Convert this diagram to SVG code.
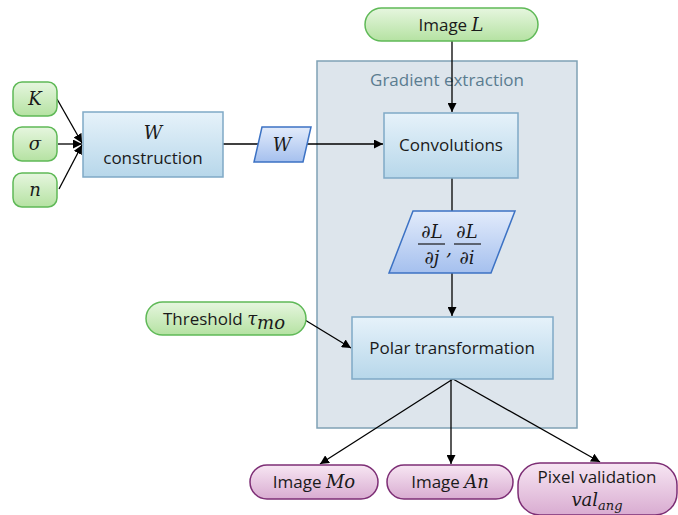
<svg xmlns="http://www.w3.org/2000/svg" width="678" height="515" viewBox="0 0 678 515">
<defs>
<linearGradient id="gGreen" x1="0" y1="0" x2="0" y2="1"><stop offset="0" stop-color="#e6f6df"/><stop offset="1" stop-color="#b5e2a2"/></linearGradient>
<linearGradient id="gBlue" x1="0" y1="0" x2="0" y2="1"><stop offset="0" stop-color="#e6f2fa"/><stop offset="1" stop-color="#b7d7ea"/></linearGradient>
<linearGradient id="gPara" x1="0" y1="0" x2="0" y2="1"><stop offset="0" stop-color="#e2ebfb"/><stop offset="1" stop-color="#a5c0ee"/></linearGradient>
<linearGradient id="gPurple" x1="0" y1="0" x2="0" y2="1"><stop offset="0" stop-color="#f7e6f3"/><stop offset="1" stop-color="#d9acd1"/></linearGradient>
<marker id="arr" viewBox="0 0 10 10" refX="10" refY="5" markerWidth="9" markerHeight="9" markerUnits="userSpaceOnUse" orient="auto"><path d="M0,0 L10,5 L0,10 z" fill="#000"/></marker>
</defs>
<style>
.green{fill:url(#gGreen);stroke:#5fb957;stroke-width:1.5}
.blue{fill:url(#gBlue);stroke:#7fa9c6;stroke-width:1.5}
.para{fill:url(#gPara);stroke:#3c72c4;stroke-width:1.5}
.purple{fill:url(#gPurple);stroke:#7d2e75;stroke-width:1.5}
.t{font-family:"Open Sans","Liberation Sans",sans-serif;font-size:17px;fill:#1a1a1a;text-anchor:middle}
.m{font-family:"DejaVu Serif","Liberation Serif",serif;font-style:italic;font-size:18px;fill:#1a1a1a}
.c{stroke:#000;stroke-width:1.3;fill:none}
</style>
<g id="container">
<rect x="317" y="61" width="260" height="367" fill="#dde5ec" stroke="#7fa1b5" stroke-width="1.5"/>
<text x="447" y="86" class="t" style="fill:#5a7c90">Gradient extraction</text>
</g>
<g id="connectors">
<line x1="452" y1="41" x2="452" y2="112" class="c" marker-end="url(#arr)"/>
<line x1="57" y1="99" x2="82" y2="143" class="c" marker-end="url(#arr)"/>
<line x1="58" y1="144" x2="82" y2="144" class="c" marker-end="url(#arr)"/>
<line x1="59" y1="189" x2="82" y2="145" class="c" marker-end="url(#arr)"/>
<line x1="223" y1="144" x2="260" y2="144" class="c"/>
<line x1="306" y1="144" x2="383" y2="144" class="c" marker-end="url(#arr)"/>
<line x1="452" y1="178" x2="452" y2="211" class="c"/>
<line x1="452" y1="273" x2="452" y2="316" class="c" marker-end="url(#arr)"/>
<line x1="305" y1="320" x2="351" y2="348" class="c" marker-end="url(#arr)"/>
<line x1="453" y1="379" x2="320" y2="464" class="c" marker-end="url(#arr)"/>
<line x1="451" y1="379" x2="451" y2="464" class="c" marker-end="url(#arr)"/>
<line x1="453" y1="379" x2="600" y2="462" class="c" marker-end="url(#arr)"/>
</g>
<g id="imageL">
<rect x="365" y="8" width="173" height="33" rx="16.5" class="green"/>
<text x="451" y="31" class="t">Image <tspan class="m">L</tspan></text>
</g>
<g id="K">
<rect x="13" y="82" width="44" height="34" rx="9" class="green"/>
<text x="35" y="105" class="m" text-anchor="middle">K</text>
</g>
<g id="sigma">
<rect x="13" y="127" width="44" height="34" rx="9" class="green"/>
<text x="35" y="150" class="m" text-anchor="middle">σ</text>
</g>
<g id="n">
<rect x="13" y="173" width="44" height="34" rx="9" class="green"/>
<text x="35" y="196" class="m" text-anchor="middle">n</text>
</g>
<g id="wconstruction">
<rect x="83" y="112" width="140" height="65" class="blue"/>
<text x="153" y="139" class="m" text-anchor="middle">W</text>
<text x="153" y="164" class="t">construction</text>
</g>
<g id="W">
<polygon points="262,127 311,127 303,162 254,162" class="para"/>
<text x="282" y="151" class="m" text-anchor="middle">W</text>
</g>
<g id="convolutions">
<rect x="384" y="113" width="134" height="65" class="blue"/>
<text x="451" y="151" class="t">Convolutions</text>
</g>
<g id="derivatives">
<polygon points="413,211 515,211 491,273 389,273" class="para"/>
<text x="432" y="238" class="m" text-anchor="middle">∂L</text>
<line x1="418" y1="244" x2="445" y2="244" stroke="#1a1a1a" stroke-width="1.2"/>
<text x="432" y="264" class="m" text-anchor="middle">∂j</text>
<text x="449" y="255" class="m" text-anchor="middle">,</text>
<text x="467" y="238" class="m" text-anchor="middle">∂L</text>
<line x1="454" y1="244" x2="481" y2="244" stroke="#1a1a1a" stroke-width="1.2"/>
<text x="467" y="264" class="m" text-anchor="middle">∂i</text>
</g>
<g id="threshold">
<rect x="146" y="302" width="160" height="33" rx="16.5" class="green"/>
<text x="224" y="325" class="t">Threshold <tspan class="m">τ</tspan><tspan class="m" font-size="13" dy="4">mo</tspan></text>
</g>
<g id="polar">
<rect x="352" y="317" width="201" height="62" class="blue"/>
<text x="452" y="354" class="t">Polar transformation</text>
</g>
<g id="imageMo">
<rect x="250" y="465" width="128" height="34" rx="17" class="purple"/>
<text x="314" y="488" class="t">Image <tspan class="m">Mo</tspan></text>
</g>
<g id="imageAn">
<rect x="387" y="465" width="126" height="34" rx="17" class="purple"/>
<text x="450" y="488" class="t">Image <tspan class="m">An</tspan></text>
</g>
<g id="pixelValidation">
<rect x="518" y="463" width="159" height="52" rx="22" class="purple"/>
<text x="597" y="483" class="t">Pixel validation</text>
<text x="597" y="506" class="m" text-anchor="middle">val<tspan font-size="13" dy="4">ang</tspan></text>
</g>
</svg>
